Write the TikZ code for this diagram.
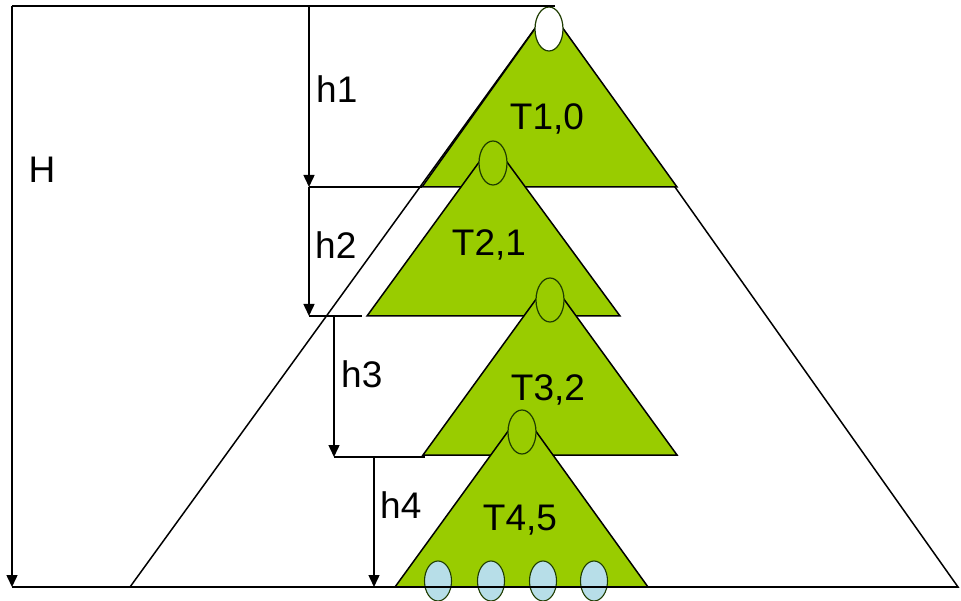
\documentclass[tikz,border=0pt]{standalone}
\usepackage{fontspec}
\setmainfont{Liberation Sans}
\usetikzlibrary{arrows.meta}
\definecolor{leafgreen}{RGB}{153,204,0}
\definecolor{leafblue}{RGB}{183,222,232}
\definecolor{knotline}{RGB}{30,60,0}
\tikzset{
  tri/.style={draw=black, line width=1.5pt, fill=leafgreen, line join=miter},
  knot/.style={draw=knotline, line width=1.2pt, fill=leafgreen},
  leaf/.style={draw=knotline, line width=1.1pt, fill=leafblue},
  dim/.style={line width=1.5pt, draw=black},
  dimarrow/.style={dim, -{Triangle[width=11pt,length=12pt]}},
  lbl/.style={font=\fontsize{37}{40}\selectfont, inner sep=0pt}
}
\begin{document}
\begin{tikzpicture}[x=1pt,y=-1pt]
\useasboundingbox (0,0) rectangle (961,601);
% key points
\coordinate (A) at (549,9);
\coordinate (BL) at (130,587);
\coordinate (BR) at (958,587);
\coordinate (t1l) at (422,187); \coordinate (t1r) at (677,187);
\coordinate (t2a) at (493,143); \coordinate (t2l) at (367,316); \coordinate (t2r) at (620,316);
\coordinate (t3a) at (550,280); \coordinate (t3l) at (423,455); \coordinate (t3r) at (677,455);
\coordinate (t4a) at (522,412); \coordinate (t4l) at (395,587); \coordinate (t4r) at (648,587);
% big triangle
\draw[line width=1.5pt, fill=white] (A) -- (BL) -- (BR) -- cycle;
% subtrees
\draw[tri] (A) -- (t1l) -- (t1r) -- cycle;
\draw[tri] (t2a) -- (t2l) -- (t2r) -- cycle;
\draw[tri] (t3a) -- (t3l) -- (t3r) -- cycle;
\draw[tri] (t4a) -- (t4l) -- (t4r) -- cycle;
% knot ellipses
\draw[knot, fill=white] (549,29) ellipse [x radius=14, y radius=22];
\draw[knot] (493,163) ellipse [x radius=14, y radius=22];
\draw[knot] (550,300) ellipse [x radius=14, y radius=22];
\draw[knot] (522,432) ellipse [x radius=14, y radius=22];
% leaves
\foreach \lx in {438,491,543,594}
  \draw[leaf] (\lx,581) ellipse [x radius=13.5, y radius=20];
% dimension lines
\coordinate (Htop) at (12,6); \coordinate (Hbot) at (12,587);
\coordinate (topend) at (555,6);
\coordinate (h1t) at (309,6); \coordinate (h1b) at (309,187);
\coordinate (h2b) at (309,316); \coordinate (h2e) at (362,316);
\coordinate (h3t) at (334,316); \coordinate (h3b) at (334,457); \coordinate (h3e) at (425,457);
\coordinate (h4t) at (374,457); \coordinate (h4b) at (374,587);
\draw[dim] (Htop) -- (topend);
\draw[dim] (Hbot) -- (BR);
\draw[dimarrow] (Htop) -- (Hbot);
\draw[dimarrow] (h1t) -- (h1b);
\draw[dim] (h1b) -- (t1l);
\draw[dimarrow] (h1b) -- (h2b);
\draw[dim] (h2b) -- (h2e);
\draw[dimarrow] (h3t) -- (h3b);
\draw[dim] (h3b) -- (h3e);
\draw[dimarrow] (h4t) -- (h4b);
% labels
\node[lbl, anchor=base] (lH) at (42,183) {H};
\node[lbl, anchor=base west] (lh1) at (316,103) {h1};
\node[lbl, anchor=base west] (lh2) at (315,259) {h2};
\node[lbl, anchor=base west] (lh3) at (341,388) {h3};
\node[lbl, anchor=base west] (lh4) at (380,518) {h4};
\node[lbl, anchor=base] (T1) at (547,130) {T1,0};
\node[lbl, anchor=base] (T2) at (489,256) {T2,1};
\node[lbl, anchor=base] (T3) at (548,400) {T3,2};
\node[lbl, anchor=base] (T4) at (520,530) {T4,5};
\end{tikzpicture}
\end{document}
